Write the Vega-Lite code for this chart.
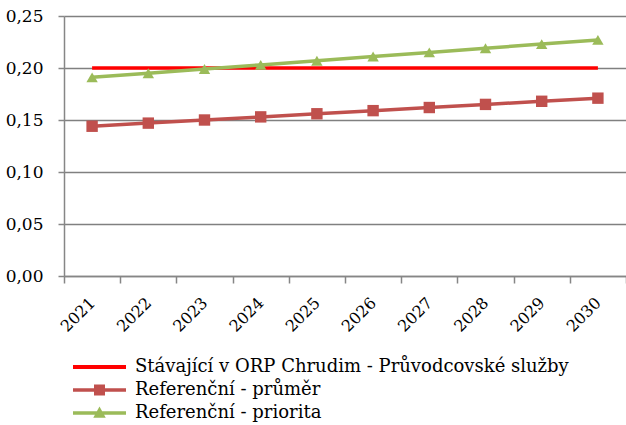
{
  "$schema": "https://vega.github.io/schema/vega-lite/v6.json",
  "width": 562,
  "height": 260,
  "autosize": {"type": "none"},
  "padding": {"left": 64, "top": 16, "right": 0, "bottom": 149},
  "background": "white",
  "config": {"view": {"stroke": null}, "font": "DejaVu Serif"},
  "data": {
    "values": [
      {"year": "2021", "series": "Stávající v ORP Chrudim - Průvodcovské služby", "value": 0.2},
      {"year": "2022", "series": "Stávající v ORP Chrudim - Průvodcovské služby", "value": 0.2},
      {"year": "2023", "series": "Stávající v ORP Chrudim - Průvodcovské služby", "value": 0.2},
      {"year": "2024", "series": "Stávající v ORP Chrudim - Průvodcovské služby", "value": 0.2},
      {"year": "2025", "series": "Stávající v ORP Chrudim - Průvodcovské služby", "value": 0.2},
      {"year": "2026", "series": "Stávající v ORP Chrudim - Průvodcovské služby", "value": 0.2},
      {"year": "2027", "series": "Stávající v ORP Chrudim - Průvodcovské služby", "value": 0.2},
      {"year": "2028", "series": "Stávající v ORP Chrudim - Průvodcovské služby", "value": 0.2},
      {"year": "2029", "series": "Stávající v ORP Chrudim - Průvodcovské služby", "value": 0.2},
      {"year": "2030", "series": "Stávající v ORP Chrudim - Průvodcovské služby", "value": 0.2},
      {"year": "2021", "series": "Referenční - průměr", "value": 0.144},
      {"year": "2022", "series": "Referenční - průměr", "value": 0.147},
      {"year": "2023", "series": "Referenční - průměr", "value": 0.150},
      {"year": "2024", "series": "Referenční - průměr", "value": 0.153},
      {"year": "2025", "series": "Referenční - průměr", "value": 0.156},
      {"year": "2026", "series": "Referenční - průměr", "value": 0.159},
      {"year": "2027", "series": "Referenční - průměr", "value": 0.162},
      {"year": "2028", "series": "Referenční - průměr", "value": 0.165},
      {"year": "2029", "series": "Referenční - průměr", "value": 0.168},
      {"year": "2030", "series": "Referenční - průměr", "value": 0.171},
      {"year": "2021", "series": "Referenční - priorita", "value": 0.191},
      {"year": "2022", "series": "Referenční - priorita", "value": 0.195},
      {"year": "2023", "series": "Referenční - priorita", "value": 0.199},
      {"year": "2024", "series": "Referenční - priorita", "value": 0.203},
      {"year": "2025", "series": "Referenční - priorita", "value": 0.207},
      {"year": "2026", "series": "Referenční - priorita", "value": 0.211},
      {"year": "2027", "series": "Referenční - priorita", "value": 0.215},
      {"year": "2028", "series": "Referenční - priorita", "value": 0.219},
      {"year": "2029", "series": "Referenční - priorita", "value": 0.223},
      {"year": "2030", "series": "Referenční - priorita", "value": 0.227}
    ]
  },
  "encoding": {
    "x": {
      "field": "year",
      "type": "ordinal",
      "bandPosition": 0.5,
      "scale": {"type": "band", "paddingInner": 0, "paddingOuter": 0},
      "axis": {
        "title": null,
        "tickBand": "extent",
        "labelAngle": -45,
        "labelAlign": "right",
        "labelBaseline": "middle",
        "labelFontSize": 16,
        "labelColor": "#000000",
        "labelPadding": 17,
        "tickSize": 7,
        "tickColor": "#868686",
        "tickWidth": 1.5,
        "domainColor": "#868686",
        "domainWidth": 1.5,
        "grid": false
      }
    },
    "y": {
      "field": "value",
      "type": "quantitative",
      "scale": {"domain": [0, 0.25], "nice": false},
      "axis": {
        "title": null,
        "values": [0, 0.05, 0.1, 0.15, 0.2, 0.25],
        "labelExpr": "replace(format(datum.value, '.2f'), '.', ',')",
        "labelFontSize": 17,
        "labelColor": "#000000",
        "labelPadding": 15,
        "tickSize": 6,
        "tickColor": "#868686",
        "tickWidth": 1.5,
        "domainColor": "#868686",
        "domainWidth": 1.5,
        "grid": true,
        "gridColor": "#808080",
        "gridWidth": 1.6
      }
    }
  },
  "layer": [
    {
      "mark": {"type": "line", "strokeWidth": 3.5},
      "encoding": {
        "color": {
          "field": "series",
          "type": "nominal",
          "sort": null,
          "scale": {
            "domain": ["Stávající v ORP Chrudim - Průvodcovské služby", "Referenční - průměr", "Referenční - priorita"],
            "range": ["#FF0000", "#C0504D", "#9BBB59"]
          },
          "legend": {
            "title": null,
            "orient": "none",
            "legendX": 48,
            "legendY": 342,
            "direction": "vertical",
            "padding": 0,
            "labelFontSize": 18,
            "labelColor": "#000000",
            "labelLimit": 700,
            "labelOffset": 5,
            "rowPadding": 5,
            "symbolSize": 100,
            "symbolStrokeWidth": 0,
            "symbolType": "M-9.6,-0.35H1V0.35H-9.6Z",
            "encode": {
              "symbols": {
                "update": {
                  "shape": {"signal": "datum.value === 'Referenční - průměr' ? 'M-9.6,-0.35H1V0.35H-9.6Z M-5.4,-1.1H-3.2V1.1H-5.4Z' : datum.value === 'Referenční - priorita' ? 'M-9.6,-0.35H1V0.35H-9.6Z M-4.3,-1.3L-3.05,0.95H-5.55Z' : 'M-9.6,-0.4H1V0.4H-9.6Z'"},
                  "fill": {"signal": "datum.value === 'Referenční - průměr' ? '#C0504D' : datum.value === 'Referenční - priorita' ? '#9BBB59' : '#FF0000'"},
                  "fillOpacity": {"value": 1},
                  "opacity": {"value": 1},
                  "strokeWidth": {"value": 0},
                  "size": {"value": 100}
                }
              }
            }
          }
        }
      }
    },
    {
      "transform": [{"filter": "datum.series !== 'Stávající v ORP Chrudim - Průvodcovské služby'"}],
      "mark": {"type": "point", "filled": true, "opacity": 1, "size": 130},
      "encoding": {
        "color": {
          "field": "series",
          "type": "nominal",
          "legend": null
        },
        "shape": {
          "field": "series",
          "type": "nominal",
          "scale": {"domain": ["Referenční - průměr", "Referenční - priorita"], "range": ["square", "triangle-up"]},
          "legend": null
        }
      }
    }
  ]
}
